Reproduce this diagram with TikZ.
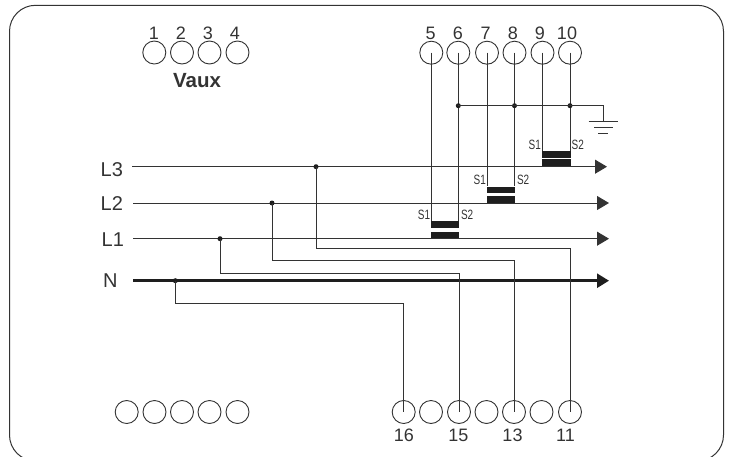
\documentclass[tikz,border=0pt]{standalone}
\usepackage{fontspec}
\setmainfont{Liberation Sans}
\newfontfamily\narrowf[FakeStretch=0.74]{Liberation Sans}
\usetikzlibrary{arrows.meta}
\definecolor{ink}{HTML}{333333}
\definecolor{barc}{HTML}{1E1E1E}
\tikzset{
  x=1pt,y=-1pt,
  term/.style={circle,draw=ink,line width=0.9pt,minimum size=23pt,inner sep=0pt,fill=none},
  wire/.style={draw=ink,line width=0.95pt},
  phase/.style={wire,-{Triangle[length=12pt,width=14pt]}},
  neutral/.style={draw=barc,line width=2.6pt,-{Triangle[length=12pt,width=14pt]}},
  dotj/.style={circle,fill=barc,draw=none,minimum size=5pt,inner sep=0pt},
  num/.style={inner sep=0pt,anchor=base,font=\fontsize{18}{18}\selectfont,text=ink},
  phlab/.style={inner sep=0pt,anchor=base west,font=\fontsize{20}{20}\selectfont,text=ink},
  slab/.style={inner sep=0pt,anchor=base west,font=\narrowf\fontsize{13.5}{13.5}\selectfont,text=ink},
  ctbar/.style={fill=barc,draw=none,inner sep=0pt,minimum width=28.5pt,minimum height=6.7pt},
}
\begin{document}
\begin{tikzpicture}
\useasboundingbox (0,0) rectangle (732,456);
\clip (0,0) rectangle (732,456);
\draw[draw=ink,line width=1pt,rounded corners=26pt] (9.5,5.3) rectangle (723.5,461);

% top-left terminals
\foreach \n/\x/\lx in {1/154.3/154,2/182/181,3/209.5/208,4/237.5/235}{
  \node[term] (t\n) at (\x,52.5) {};
  \node[num] (lab\n) at (\lx,39.3) {\n};
}
\node[inner sep=0pt,anchor=base,font=\bfseries\fontsize{20.5}{20.5}\selectfont,text=ink] (vaux) at (197,87.5) {Vaux};

% top-right terminals
\foreach \n/\x/\lx in {5/431.3/430.7,6/458.3/458,7/487/485.7,8/514.5/513,9/542.5/540,10/570/567}{
  \node[term] (t\n) at (\x,52.7) {};
  \node[num] (lab\n) at (\lx,39.3) {\n};
}

% bottom terminals
\foreach \n/\x in {a/126.7,b/154.5,c/182,d/209.5,e/237.5,16/403.7,f/431,15/459,g/486.5,13/514,h/541.5,11/570}{
  \node[term] (t\n) at (\x,412) {};
}
\foreach \n/\x in {16/404,15/458.5,13/512.5,11/565.5}{
  \node[num] (lab\n) at (\x,441.5) {\n};
}

% current transformers
\node[ctbar] (c3u) at (556.5,154.2) {};
\node[ctbar] (c3l) at (556.5,162.7) {};
\node[ctbar] (c2u) at (501.2,190) {};
\node[ctbar] (c2l) at (501.2,199.5) {};
\node[ctbar] (c1u) at (445.2,224.7) {};
\node[ctbar] (c1l) at (445.2,235) {};

% phase lines
\coordinate (L3s) at (132,166.7); \coordinate (L3e) at (607,166.7);
\coordinate (L2s) at (133,203);   \coordinate (L2e) at (609,203);
\coordinate (L1s) at (133,238.7); \coordinate (L1e) at (609,238.7);
\coordinate (Ns)  at (133,280.7); \coordinate (Ne)  at (609,280.7);
\draw[phase] (L3s) -- (L3e);
\draw[phase] (L2s) -- (L2e);
\draw[phase] (L1s) -- (L1e);
\draw[neutral] (Ns) -- (Ne);
\node[phlab] (lL3) at (100.5,176) {L3};
\node[phlab] (lL2) at (100.5,210) {L2};
\node[phlab] (lL1) at (101.5,246.5) {L1};
\node[phlab] (lN)  at (103,287.5) {N};

% junctions and branches to bottom terminals
\node[dotj] (j3) at (316,166.7) {};
\node[dotj] (j2) at (272,203) {};
\node[dotj] (j1) at (220,238.7) {};
\node[dotj] (jn) at (175.3,280.7) {};
\coordinate (y3) at (0,248.5);
\coordinate (y2) at (0,260);
\coordinate (y1) at (0,273.7);
\coordinate (yn) at (0,303.3);
\draw[wire] (j3.center) -- (j3.center |- y3) -- (t11.center |- y3) -- (t11.center);
\draw[wire] (j2.center) -- (j2.center |- y2) -- (t13.center |- y2) -- (t13.center);
\draw[wire] (j1.center) -- (j1.center |- y1) -- (t15.center |- y1) -- (t15.center);
\draw[wire] (jn.center) -- (jn.center |- yn) -- (t16.center |- yn) -- (t16.center);

% secondary wires
\draw[wire] (t5.center) -- (t5.center |- c1u.north);
\draw[wire] (t6.center) -- (t6.center |- c1u.north);
\draw[wire] (t7.center) -- (t7.center |- c2u.north);
\draw[wire] (t8.center) -- (t8.center |- c2u.north);
\draw[wire] (t9.center) -- (t9.center |- c3u.north);
\draw[wire] (t10.center) -- (t10.center |- c3u.north);

% earth bus
\coordinate (ybus) at (0,105.7);
\node[dotj] (e6) at (t6.center |- ybus) {};
\node[dotj] (e8) at (t8.center |- ybus) {};
\node[dotj] (e10) at (t10.center |- ybus) {};
\coordinate (gnd) at (603.3,121.7);
\draw[wire] (e6.center) -- (e10.center) -- (gnd |- ybus) -- (gnd);
\coordinate (g1a) at (588.7,121.7); \coordinate (g1b) at (618,121.7);
\coordinate (g2a) at (594.3,127.4); \coordinate (g2b) at (612.7,127.4);
\coordinate (g3a) at (598.3,133.3); \coordinate (g3b) at (608,133.3);
\draw[wire] (g1a) -- (g1b);
\draw[wire] (g2a) -- (g2b);
\draw[wire] (g3a) -- (g3b);

% S labels
\node[slab] (s1c) at (528.5,149) {S1};
\node[slab] (s2c) at (571.5,149) {S2};
\node[slab] (s1b) at (473.5,184.3) {S1};
\node[slab] (s2b) at (516.8,184.3) {S2};
\node[slab] (s1a) at (417.7,219) {S1};
\node[slab] (s2a) at (460.8,219) {S2};
\end{tikzpicture}
\end{document}
